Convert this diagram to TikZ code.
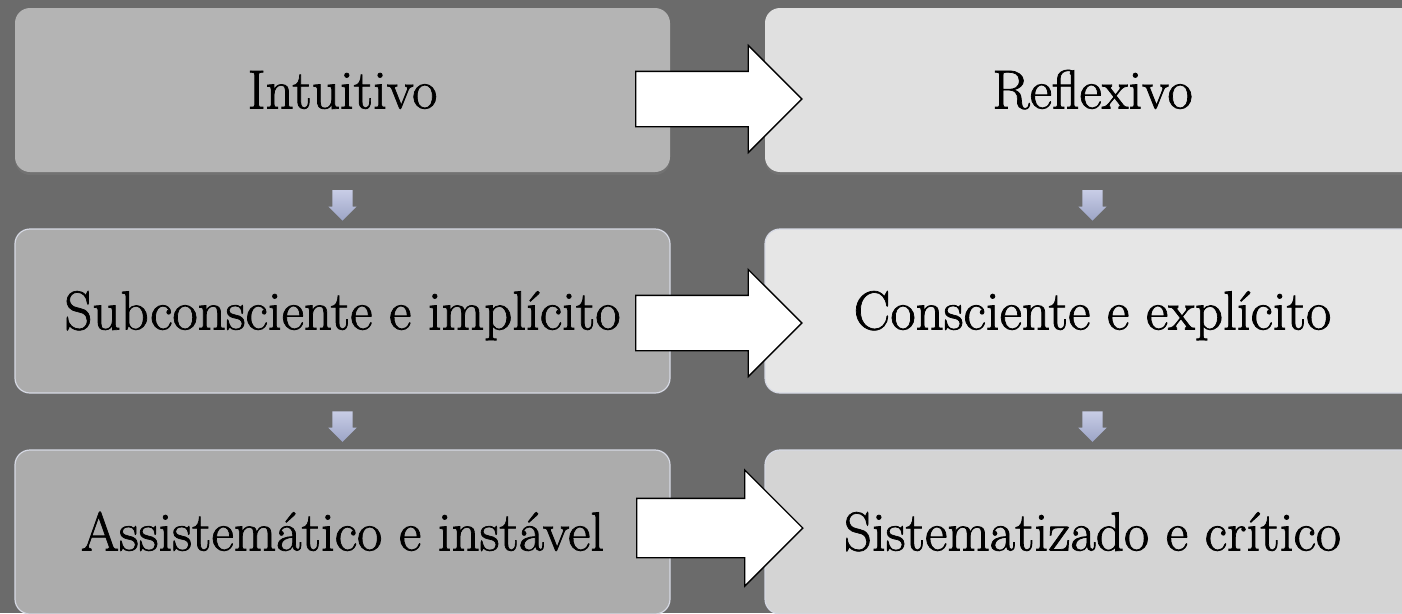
\documentclass[tikz,border=0pt]{standalone}
\usepackage{fontspec}
\newfontfamily\boxfont{Latin Modern Roman}[FakeBold=1.3]
\usetikzlibrary{shapes.arrows,shadows,calc}

\definecolor{bggray}{HTML}{6B6B6B}
\definecolor{leftA}{HTML}{B4B4B4}
\definecolor{leftB}{HTML}{ACACAC}
\definecolor{rightA}{HTML}{E0E0E0}
\definecolor{rightB}{HTML}{E6E6E6}
\definecolor{rightC}{HTML}{D4D4D4}
\definecolor{edgegray}{HTML}{D6D9E4}
\definecolor{downtop}{HTML}{C8CDE6}
\definecolor{downbot}{HTML}{9CA4C6}

\tikzset{
  box/.style={rectangle, rounded corners=15pt, minimum width=655pt,
    minimum height=164pt, inner sep=0pt, text height=37pt, text depth=0pt,
    font=\boxfont\fontsize{55}{66}\selectfont},
  topbox/.style={box, drop shadow={opacity=0.35, shadow xshift=0pt, shadow yshift=-3pt}},
  edgebox/.style={box, draw=edgegray, line width=1.2pt},
  bigarrow/.style={single arrow, draw=black, fill=white, line width=1.3pt,
    inner sep=27pt, minimum height=166pt, single arrow head extend=26pt,
    single arrow tip angle=90},
  downarrow/.style={single arrow, shape border rotate=270, inner sep=10pt,
    minimum height=28pt, single arrow head extend=4pt, single arrow tip angle=90,
    top color=downtop, bottom color=downbot}
}

\begin{document}
\begin{tikzpicture}[x=1pt, y=-1pt]
  \useasboundingbox (0,0) rectangle (1402,613);
  \fill[bggray] (0,0) rectangle (1402,613);

  % left column
  \node[topbox, fill=leftA] (i1) at (342.5,90) {Intuitivo};
  \node[edgebox, fill=leftB] (i2) at (342.5,311) {Subconsciente e implícito};
  \node[edgebox, fill=leftB] (i3) at (342.5,532) {Assistemático e instável};

  % right column
  \node[topbox, fill=rightA] (r1) at (1092.5,90) {Reflexivo};
  \node[edgebox, fill=rightB] (r2) at (1092.5,311) {Consciente e explícito};
  \node[edgebox, fill=rightC] (r3) at (1092.5,532) {Sistematizado e crítico};

  % small arrows down
  \node[downarrow] (d1) at ($(i1.south)!0.5!(i2.north)$) {};
  \node[downarrow] (d2) at ($(i2.south)!0.5!(i3.north)$) {};
  \node[downarrow] (d3) at ($(r1.south)!0.5!(r2.north)$) {};
  \node[downarrow] (d4) at ($(r2.south)!0.5!(r3.north)$) {};

  % big arrows across
  \node[bigarrow] (a1) at ($(i1.east)!0.5!(r1.west)+(-12.5,9)$) {};
  \node[bigarrow] (a2) at ($(i2.east)!0.5!(r2.west)+(-12.5,12)$) {};
  \node[bigarrow, inner sep=29pt, single arrow head extend=28.5pt] (a3)
    at ($(i3.east)!0.5!(r3.west)+(-12.5,-4)$) {};
\end{tikzpicture}
\end{document}
